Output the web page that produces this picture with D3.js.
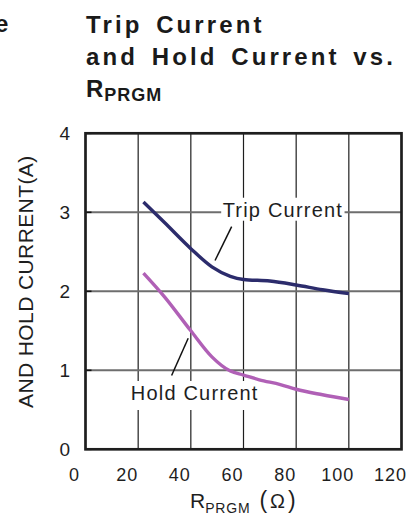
<!DOCTYPE html>
<html><head><meta charset="utf-8">
<script src="https://cdn.jsdelivr.net/npm/d3@7"></script>
<style>
html,body{margin:0;padding:0;background:#fff;}
svg{display:block;font-family:"Liberation Sans",Arial,sans-serif;}
</style></head>
<body>
<svg id="c" width="407" height="519"></svg>
<script>
// ---- data ----
const xTicks = [0, 20, 40, 60, 80, 100, 120];
const yTicks = [0, 1, 2, 3, 4];
const tripR = [22, 30, 40, 48, 55, 60, 70, 80, 90, 100];
const tripI = [3.13, 2.87, 2.54, 2.31, 2.19, 2.15, 2.13, 2.08, 2.02, 1.97];
const holdR = [22, 30, 40, 48, 55, 60, 66, 74, 80, 90, 100];
const holdI = [2.23, 1.93, 1.50, 1.17, 0.99, 0.94, 0.88, 0.82, 0.76, 0.69, 0.63];
const seriesNames = ["Trip Current", "Hold Current"];

const svg = d3.select("#c");
const x = d3.scaleLinear().domain([0, 120]).range([85.5, 401.5]);
const y = d3.scaleLinear().domain([0, 4]).range([449.3, 133.3]);

// partial neighbouring text + title
svg.append("text").attr("x", -5).attr("y", 32).attr("font-size", 24).attr("font-weight", "bold").attr("fill", "#1a1a1a").text("e");
const title = svg.append("text").attr("font-size", 24).attr("font-weight", "bold").attr("fill", "#1a1a1a")
  .attr("letter-spacing", 3.1).attr("word-spacing", 4);
title.append("tspan").attr("x", 86).attr("y", 32.5).text("Trip Current");
title.append("tspan").attr("x", 86).attr("y", 64.5).text("and Hold Current vs.");
title.append("tspan").attr("x", 86).attr("y", 97).attr("letter-spacing", 1).text("R");
title.append("tspan").attr("font-size", 18).attr("dy", 3.5).attr("letter-spacing", 1).text("PRGM");

// grid
const g = svg.append("g");
g.selectAll(".vg").data(xTicks.slice(1, -1)).join("line")
  .attr("x1", d => x(d)).attr("x2", d => x(d)).attr("y1", y(4)).attr("y2", y(0))
  .attr("stroke", "#1e1e1e").attr("stroke-width", 1.2);
g.selectAll(".hg").data(yTicks.slice(1, -1)).join("line")
  .attr("x1", x(0)).attr("x2", x(120)).attr("y1", d => y(d)).attr("y2", d => y(d))
  .attr("stroke", "#6e6e6e").attr("stroke-width", 2);
// inward ticks on left axis
g.selectAll(".yt").data(yTicks).join("line")
  .attr("x1", x(0)).attr("x2", x(0) + 6).attr("y1", d => y(d)).attr("y2", d => y(d))
  .attr("stroke", "#111").attr("stroke-width", 1.6);

// annotation labels with white background
function label(txt, dx, dy, lx1, ly1, lx2, ly2, padB) {
  const t = svg.append("text").attr("x", x(dx)).attr("y", y(dy))
    .attr("font-size", 20).attr("letter-spacing", 1.2).attr("fill", "#1e1e1e").text(txt);
  const b = t.node().getBBox();
  svg.insert("rect", function () { return t.node(); })
    .attr("x", b.x - 1.5).attr("y", b.y - 1).attr("width", b.width + 3).attr("height", b.height + 1 + padB)
    .attr("fill", "#fff");
  svg.append("line").attr("x1", x(lx1)).attr("y1", y(ly1)).attr("x2", x(lx2)).attr("y2", y(ly2))
    .attr("stroke", "#111").attr("stroke-width", 1.5);
}
label(seriesNames[0], 52.1, 2.944, 55.5, 2.818, 49.2, 2.39, 0);
label(seriesNames[1], 17.2, 0.624, 39.0, 1.405, 32.7, 0.934, 6);

// curves
const line = d3.line().x(d => x(d[0])).y(d => y(d[1])).curve(d3.curveMonotoneX);
svg.append("path").datum(d3.zip(tripR, tripI)).attr("d", line)
  .attr("fill", "none").attr("stroke", "#2c2c6c").attr("stroke-width", 3.4);
svg.append("path").datum(d3.zip(holdR, holdI)).attr("d", line)
  .attr("fill", "none").attr("stroke", "#b060b6").attr("stroke-width", 3.4);

// frame
svg.append("rect").attr("x", x(0)).attr("y", y(4)).attr("width", x(120) - x(0)).attr("height", y(0) - y(4))
  .attr("fill", "none").attr("stroke", "#1e1e1e").attr("stroke-width", 2.7);

// tick labels
svg.selectAll(".yl").data(yTicks).join("text")
  .attr("x", 70).attr("y", d => y(d)).attr("dy", "0.36em").attr("text-anchor", "end")
  .attr("font-size", 19).attr("fill", "#1e1e1e").text(d => d);
svg.selectAll(".xl").data(xTicks).join("text")
  .attr("x", d => x(d) - 11).attr("y", 481).attr("text-anchor", "middle")
  .attr("font-size", 18).attr("letter-spacing", 1).attr("fill", "#1e1e1e").text(d => d);

// axis titles
const xt = svg.append("text").attr("x", 190).attr("y", 508).attr("fill", "#1e1e1e");
xt.append("tspan").attr("font-size", 21).text("R");
xt.append("tspan").attr("font-size", 14).attr("dy", 5).attr("letter-spacing", 0.8).text("PRGM");
xt.append("tspan").attr("font-size", 23).attr("dy", -5).attr("dx", 9).text("(");
xt.append("tspan").attr("font-size", 20).attr("dx", 3).text("Ω");
xt.append("tspan").attr("font-size", 23).attr("dx", 3).text(")");

svg.append("text").attr("transform", "translate(32.5,408) rotate(-90)")
  .attr("font-size", 21).attr("letter-spacing", 0.4).attr("fill", "#1e1e1e").text("AND HOLD CURRENT(A)");
</script>
</body></html>
